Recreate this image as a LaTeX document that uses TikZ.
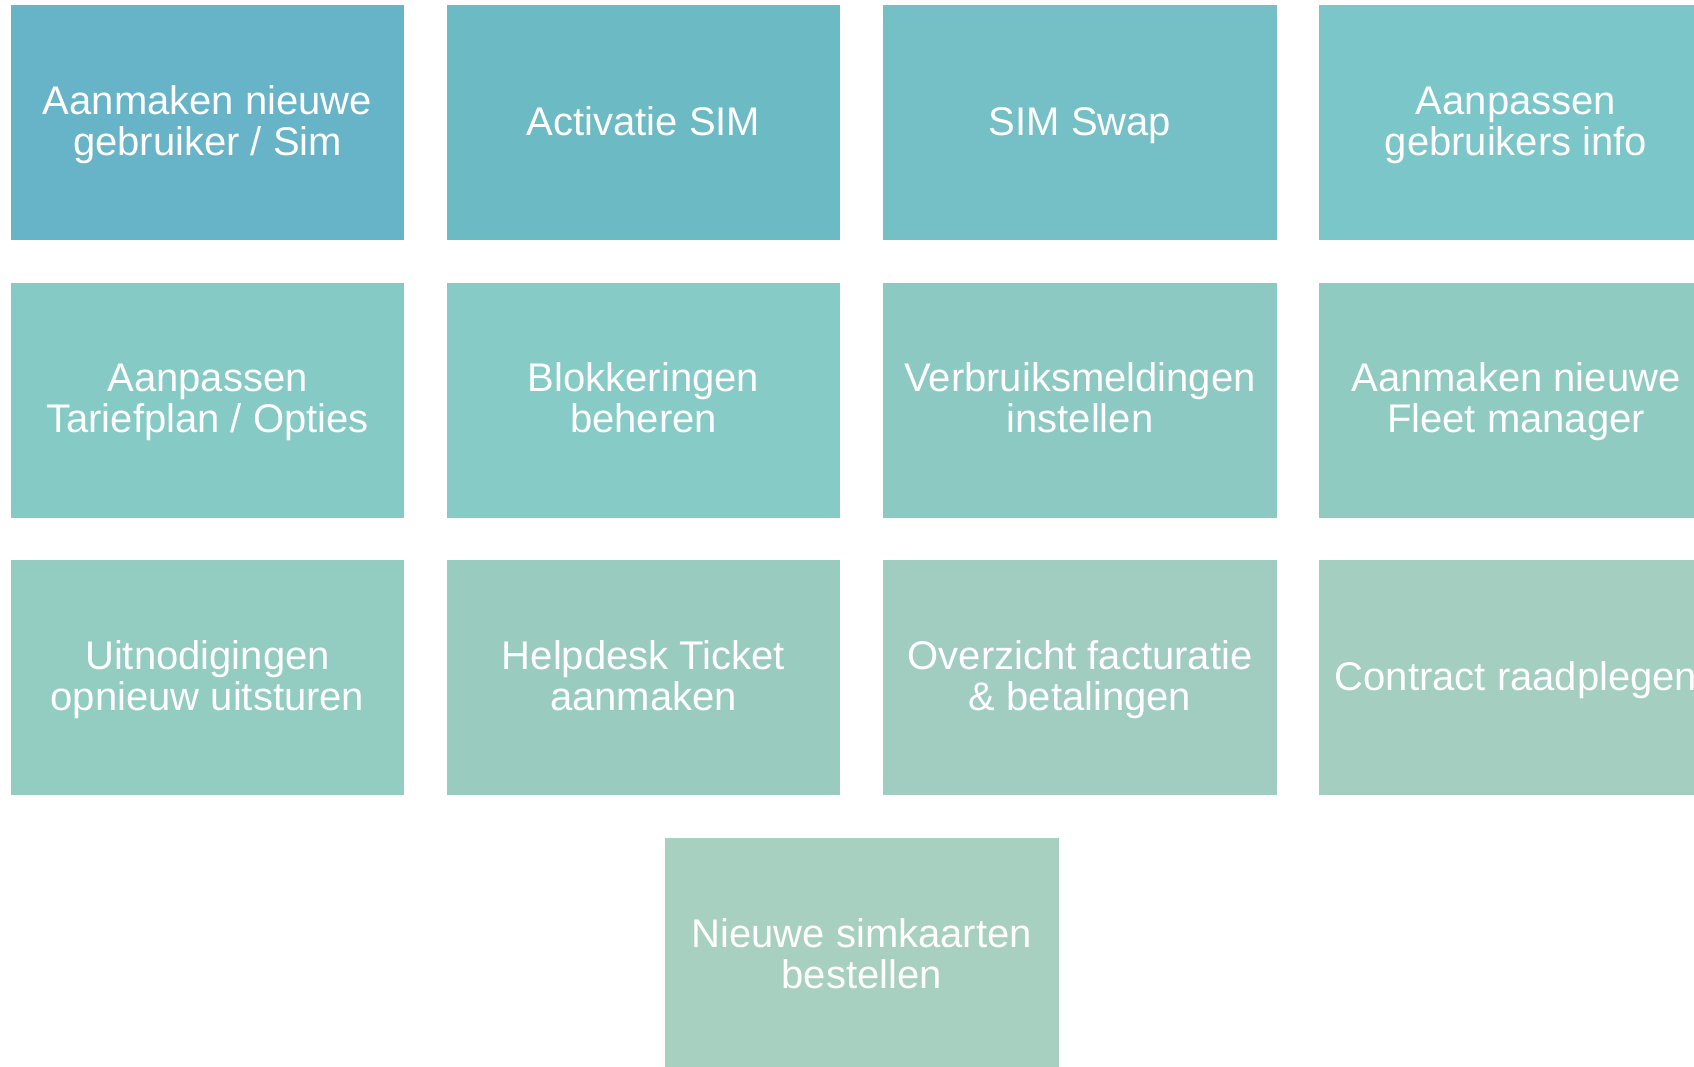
\documentclass[tikz,border=0pt]{standalone}
\usepackage{fontspec}
\setmainfont{Liberation Sans}
\definecolor{tcA}{HTML}{67B3C7}
\definecolor{tcB}{HTML}{6CBAC4}
\definecolor{tcC}{HTML}{74C0C6}
\definecolor{tcD}{HTML}{7AC6C9}
\definecolor{tcE}{HTML}{86CAC6}
\definecolor{tcF}{HTML}{86CBC5}
\definecolor{tcG}{HTML}{8CC9C2}
\definecolor{tcH}{HTML}{90CBC1}
\definecolor{tcI}{HTML}{93CCC0}
\definecolor{tcJ}{HTML}{99CCBF}
\definecolor{tcK}{HTML}{A0CDBF}
\definecolor{tcL}{HTML}{A3CEC0}
\definecolor{tcM}{HTML}{A8D0C0}
\tikzset{tilebase/.style={rectangle, inner sep=0pt, minimum width=393.5pt, minimum height=234.7pt,
  align=center, text=white, font=\fontsize{40}{41}\selectfont},
  tile/.style={tilebase, text height=94.2pt, text depth=28.8pt},
  tileone/.style={tilebase, execute at begin node=\rule[-14.6pt]{0pt}{54.6pt}}}
\begin{document}
\begin{tikzpicture}[x=1pt,y=1pt]
\useasboundingbox (0,0) rectangle (1694,-1067);
\clip (0,0) rectangle (1694,-1067);
\fill[white] (0,0) rectangle (1694,-1067);
\node[tile, fill=tcA] (t0) at (207.5,-122.7){Aanmaken nieuwe\\gebruiker / Sim};
\node[tileone, fill=tcB] (t1) at (643.5,-122.7){Activatie SIM};
\node[tileone, fill=tcC] (t2) at (1080,-122.7){SIM Swap};
\node[tile, fill=tcD] (t3) at (1516,-122.7){Aanpassen\\gebruikers info};
\node[tile, fill=tcE] (t4) at (207.5,-400.2){Aanpassen\\Tariefplan / Opties};
\node[tile, fill=tcF] (t5) at (643.5,-400.2){Blokkeringen\\beheren};
\node[tile, fill=tcG] (t6) at (1080,-400.2){Verbruiksmeldingen\\instellen};
\node[tile, fill=tcH] (t7) at (1516,-400.2){Aanmaken nieuwe\\Fleet manager};
\node[tile, fill=tcI] (t8) at (207.5,-677.8){Uitnodigingen\\opnieuw uitsturen};
\node[tile, fill=tcJ] (t9) at (643.5,-677.8){Helpdesk Ticket\\aanmaken};
\node[tile, fill=tcK] (t10) at (1080,-677.8){Overzicht facturatie\\\& betalingen};
\node[tileone, fill=tcL] (t11) at (1516,-677.8){Contract raadplegen};
\node[tile, fill=tcM] (t12) at (861.8,-955.4){Nieuwe simkaarten\\bestellen};
\end{tikzpicture}
\end{document}
